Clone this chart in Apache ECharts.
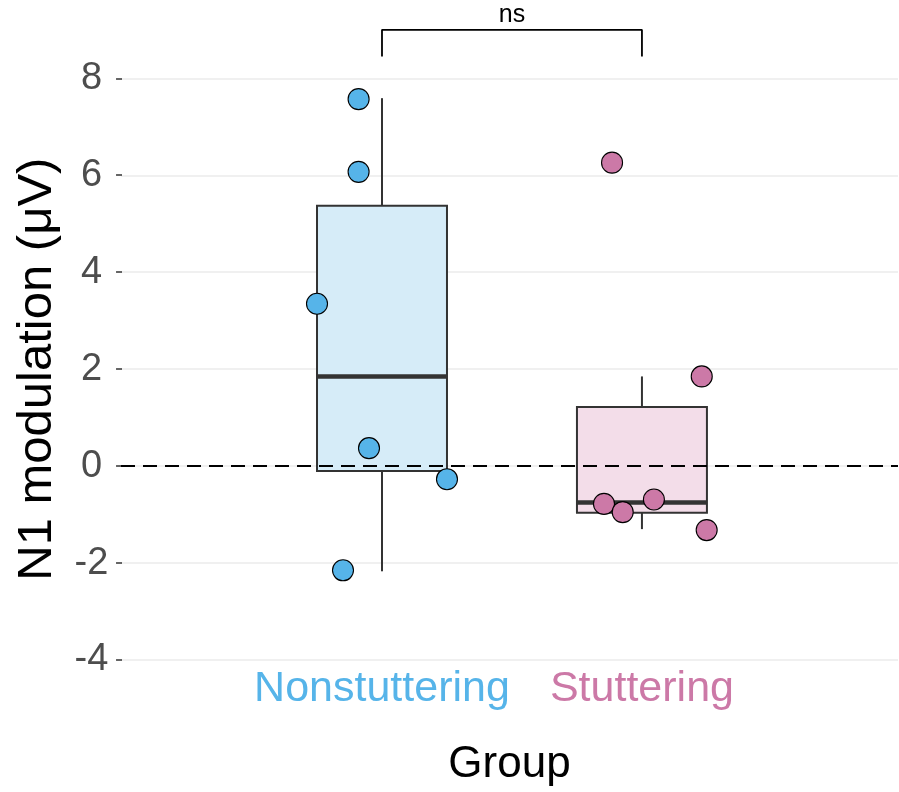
<!DOCTYPE html>
<html>
<head>
<meta charset="utf-8">
<title>N1 modulation by group</title>
<script src="https://cdn.jsdelivr.net/npm/echarts@6/dist/echarts.min.js"></script>
<style>
  html, body { margin: 0; padding: 0; background: #ffffff; }
  #chart { width: 899px; height: 792px; }
</style>
</head>
<body>
<div id="chart"></div>
<script>
// Groups and their positions on the continuous x scale
const groups = ['Nonstuttering', 'Stuttering'];
const groupPositions = [1, 2];

// Box summaries per group: [lower whisker, Q1, median, Q3, upper whisker]
const nonstutteringBox = [-2.17, -0.10, 1.85, 5.37, 7.59];
const stutteringBox = [-1.30, -0.96, -0.75, 1.22, 1.85];

// Individual participants (µV) and their horizontal jitter
const nonstutteringValues = [7.57, 6.07, 3.35, 0.37, -0.27, -2.15];
const nonstutteringJitter = [-0.09, -0.09, -0.25, -0.05, 0.25, -0.15];
const stutteringValues = [6.26, 1.85, -0.78, -0.95, -0.69, -1.32];
const stutteringJitter = [-0.115, 0.23, -0.146, -0.074, 0.046, 0.249];

// Y axis ticks
const yMin = -4;
const yMax = 8;
const yStep = 2;

// Significance annotation between the two groups
const comparisonLabel = 'ns';
const bracketBottom = 8.45;
const bracketTop = 9.0;

// Visible x range of the panel
const xMin = -0.004;
const xMax = 2.985;

const groupColors = ['#56B4E9', '#CC79A7'];
const boxFills = ['#D6ECF8', '#F3DDE9'];
const FONT = "'Liberation Sans', Arial, Helvetica, sans-serif";

const boxData = [
  [groupPositions[0]].concat(nonstutteringBox),
  [groupPositions[1]].concat(stutteringBox)
];

function jittered(pos, values, jitter) {
  return values.map((v, i) => [pos + jitter[i], v]);
}

// Group names sit just below the bottom of the value range, one per group
const groupLabelData = groups.map((g, i) => ({
  value: [groupPositions[i], yMin],
  name: g,
  label: { color: groupColors[i] }
}));

const chart = echarts.init(document.getElementById('chart'), null, { renderer: 'canvas' });

const option = {
  backgroundColor: '#ffffff',
  animation: false,
  grid: { left: 121, top: 78.3, right: 1, height: 583.2, containLabel: false },
  xAxis: {
    type: 'value',
    min: xMin,
    max: xMax,
    name: 'Group',
    nameLocation: 'middle',
    nameGap: 83,
    nameTextStyle: { fontFamily: FONT, fontSize: 44, color: '#000000' },
    axisLine: { show: false },
    axisTick: { show: false },
    splitLine: { show: false },
    axisLabel: { show: false }
  },
  yAxis: {
    type: 'value',
    min: yMin,
    max: yMax,
    interval: yStep,
    name: 'N1 modulation (\u03BCV)',
    nameLocation: 'middle',
    nameGap: 59,
    nameTextStyle: { fontFamily: FONT, fontSize: 49, color: '#000000' },
    axisLine: { show: false },
    axisTick: { show: true, length: 6, lineStyle: { color: '#333333', width: 1.5 } },
    axisLabel: {
      margin: 29.5,
      align: 'center',
      fontFamily: FONT,
      fontSize: 38,
      color: '#4D4D4D'
    },
    splitLine: { show: true, lineStyle: { color: '#EBEBEB', width: 1.6 } }
  },
  series: [
    {
      name: 'boxes',
      type: 'custom',
      z: 2,
      silent: true,
      encode: { x: 0, y: [1, 2, 3, 4, 5] },
      data: boxData,
      renderItem: function (params, api) {
        const x = api.value(0);
        const lo = api.coord([x, api.value(1)]);
        const q1 = api.coord([x, api.value(2)]);
        const med = api.coord([x, api.value(3)]);
        const q3 = api.coord([x, api.value(4)]);
        const hi = api.coord([x, api.value(5)]);
        const half = api.size([0.25, 0])[0];
        const cx = lo[0];
        const stroke = '#333333';
        return {
          type: 'group',
          children: [
            { type: 'line', shape: { x1: cx, y1: hi[1], x2: cx, y2: q3[1] }, style: { stroke: stroke, lineWidth: 2 } },
            { type: 'line', shape: { x1: cx, y1: q1[1], x2: cx, y2: lo[1] }, style: { stroke: stroke, lineWidth: 2 } },
            { type: 'rect', shape: { x: cx - half, y: q3[1], width: half * 2, height: q1[1] - q3[1] },
              style: { fill: boxFills[params.dataIndex], stroke: stroke, lineWidth: 2 } },
            { type: 'line', shape: { x1: cx - half, y1: med[1], x2: cx + half, y2: med[1] }, style: { stroke: stroke, lineWidth: 4.5 } }
          ]
        };
      }
    },
    {
      name: 'zero',
      type: 'line',
      z: 3,
      silent: true,
      symbol: 'none',
      data: [[xMin, 0], [xMax, 0]],
      lineStyle: { color: '#000000', width: 2, type: [14, 8] }
    },
    {
      name: groups[0],
      type: 'scatter',
      z: 4,
      symbol: 'circle',
      symbolSize: 21,
      itemStyle: { color: groupColors[0], borderColor: '#000000', borderWidth: 1.1, opacity: 1 },
      data: jittered(groupPositions[0], nonstutteringValues, nonstutteringJitter)
    },
    {
      name: groups[1],
      type: 'scatter',
      z: 4,
      symbol: 'circle',
      symbolSize: 21,
      itemStyle: { color: groupColors[1], borderColor: '#000000', borderWidth: 1.1, opacity: 1 },
      data: jittered(groupPositions[1], stutteringValues, stutteringJitter)
    },
    {
      name: 'groupLabels',
      type: 'scatter',
      z: 4,
      silent: true,
      clip: false,
      symbolSize: 0,
      itemStyle: { opacity: 1 },
      data: groupLabelData,
      label: {
        show: true,
        position: 'bottom',
        distance: 8,
        formatter: '{b}',
        fontFamily: FONT,
        fontSize: 43,
        opacity: 1
      }
    },
    {
      name: 'bracket',
      type: 'line',
      z: 4,
      silent: true,
      clip: false,
      symbol: 'none',
      data: [
        [groupPositions[0], bracketBottom],
        [groupPositions[0], bracketTop],
        [groupPositions[1], bracketTop],
        [groupPositions[1], bracketBottom]
      ],
      lineStyle: { color: '#000000', width: 1.8 }
    },
    {
      name: 'comparison',
      type: 'scatter',
      z: 4,
      silent: true,
      clip: false,
      symbolSize: 0,
      itemStyle: { opacity: 1 },
      data: [[(groupPositions[0] + groupPositions[1]) / 2, bracketTop]],
      label: {
        show: true,
        position: 'top',
        distance: 2,
        formatter: comparisonLabel,
        fontFamily: FONT,
        fontSize: 25,
        color: '#000000',
        opacity: 1
      }
    }
  ]
};

chart.setOption(option);
</script>
</body>
</html>
